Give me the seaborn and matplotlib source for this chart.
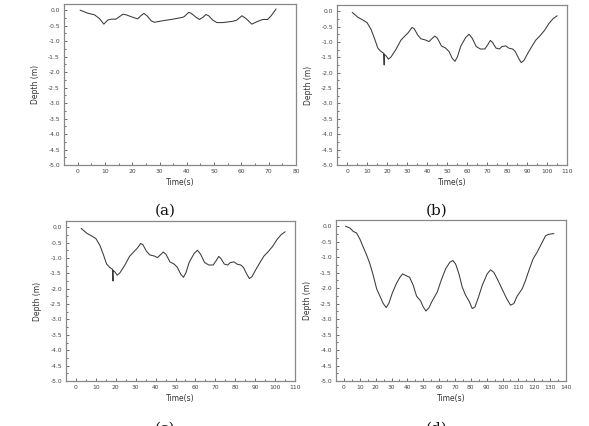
import numpy as np
import pandas as pd
import matplotlib
matplotlib.use("Agg")
import matplotlib.pyplot as plt
import seaborn as sns
from matplotlib.ticker import MultipleLocator

sns.set_theme(style="white")
plt.rcParams['font.family'] = ['DejaVu Sans']

# Panel (a)
t_a = [0.9, 3.8, 6.2, 8.0, 9.6, 11.0, 12.3, 14.0, 16.6, 17.8, 19.6, 22.0, 23.0, 24.3, 25.5,
       27.0, 28.2, 31.2, 34.9, 38.5, 39.0, 40.7, 41.6, 43.4, 44.6, 45.9, 47.0, 48.0, 49.5,
       51.0, 53.2, 56.8, 58.3, 60.2, 61.7, 63.8, 66.0, 67.8, 69.6, 70.9, 72.7]
d_a = [0.0, -0.10, -0.15, -0.27, -0.45, -0.32, -0.29, -0.29, -0.13, -0.15, -0.21, -0.28, -0.19,
       -0.10, -0.19, -0.35, -0.39, -0.34, -0.29, -0.23, -0.21, -0.07, -0.10, -0.23, -0.30, -0.23,
       -0.14, -0.18, -0.32, -0.40, -0.40, -0.36, -0.32, -0.18, -0.27, -0.45, -0.36, -0.30, -0.30,
       -0.18, 0.04]

# Panel (b)
t_b = [2.6, 5.5, 8.0, 10.0, 12.0, 13.7, 15.4, 17.0, 18.4, 18.6, 18.6, 19.5, 20.7, 22.0, 24.5,
       27.0, 29.5, 30.6, 32.5, 33.6, 35.3, 37.0, 39.4, 41.0, 42.2, 43.9, 45.2, 47.2, 49.3, 51.0,
       52.6, 54.0, 55.3, 56.8, 59.3, 61.0, 62.6, 64.6, 66.7, 68.9, 70.4, 71.7, 72.8, 74.5, 76.2,
       77.5, 79.5, 80.8, 82.8, 84.1, 85.8, 87.1, 88.4, 90.4, 92.4, 94.4, 96.5, 98.7, 101.0,
       103.1, 105.1]
d_b = [-0.04, -0.20, -0.29, -0.37, -0.59, -0.88, -1.20, -1.31, -1.37, -1.75, -1.40, -1.45, -1.56,
       -1.49, -1.24, -0.94, -0.77, -0.70, -0.53, -0.57, -0.77, -0.90, -0.94, -0.99, -0.91, -0.81,
       -0.88, -1.13, -1.20, -1.31, -1.53, -1.63, -1.47, -1.15, -0.86, -0.75, -0.88, -1.15, -1.23,
       -1.23, -1.09, -0.95, -1.02, -1.20, -1.23, -1.15, -1.13, -1.20, -1.23, -1.31, -1.53, -1.67,
       -1.61, -1.37, -1.15, -0.94, -0.80, -0.63, -0.40, -0.24, -0.15]

# Panel (c) (same record as (b))
t_c = list(t_b)
d_c = list(d_b)

# Panel (d)
t_d = [1.0, 3.8, 5.9, 8.0, 10.1, 12.2, 14.3, 16.4, 18.5, 20.6, 22.7, 24.8, 26.7, 28.4, 30.5,
       33.2, 35.3, 37.0, 38.9, 41.4, 43.7, 45.8, 48.3, 50.0, 51.7, 53.6, 55.7, 58.8, 61.3, 64.1,
       66.8, 68.7, 70.4, 72.5, 74.6, 76.7, 78.8, 80.9, 82.6, 84.7, 87.2, 90.3, 92.4, 94.5, 97.1,
       99.8, 102.5, 105.0, 107.1, 109.2, 112.4, 114.5, 116.6, 119.3, 121.8, 124.4, 127.1,
       129.2, 132.4]
d_d = [0.0, -0.06, -0.17, -0.22, -0.42, -0.68, -0.93, -1.22, -1.59, -2.02, -2.26, -2.50, -2.63,
       -2.48, -2.16, -1.84, -1.65, -1.54, -1.59, -1.65, -1.91, -2.26, -2.41, -2.61, -2.74, -2.63,
       -2.41, -2.13, -1.75, -1.38, -1.16, -1.11, -1.22, -1.54, -1.97, -2.23, -2.41, -2.66, -2.61,
       -2.31, -1.91, -1.54, -1.41, -1.49, -1.75, -2.04, -2.33, -2.55, -2.50, -2.26, -2.02, -1.75,
       -1.43, -1.05, -0.84, -0.58, -0.31, -0.26, -0.24]

panels = [
    ("(a)", t_a, d_a, 80, (64, 296, 4, 165), (165, 211)),
    ("(b)", t_b, d_b, 110, (337, 567, 5, 165), (437, 211)),
    ("(c)", t_c, d_c, 110, (66, 295, 221, 381), (165, 429)),
    ("(d)", t_d, d_d, 140, (336, 566, 220, 381), (437, 429)),
]

W, H = 589, 426
fig = plt.figure(figsize=(W / 100, H / 100), dpi=100)
fig.patch.set_facecolor("white")

for label, t, d, xmax, (l, r, top, bot), (lx, ly) in panels:
    ax = fig.add_axes([l / W, 1 - bot / H, (r - l) / W, (bot - top) / H])
    df = pd.DataFrame({"Time(s)": t, "Depth (m)": d})
    sns.lineplot(data=df, x="Time(s)", y="Depth (m)", ax=ax, estimator=None, sort=False,
                 color="#3a3a3a", linewidth=0.75)
    ax.set_xlim(-5, xmax)
    ax.set_ylim(-5.0, 0.2)
    ax.xaxis.set_major_locator(MultipleLocator(10))
    ax.xaxis.set_minor_locator(MultipleLocator(5))
    ax.yaxis.set_minor_locator(MultipleLocator(0.25))
    yt = np.arange(-5.0, 0.01, 0.5)
    ax.set_yticks(yt)
    ax.set_yticklabels([f"{v:.1f}" for v in yt])
    ax.tick_params(axis="both", which="both", direction="in", labelsize=4.3,
                   colors="#333333", labelcolor="#444444", top=False, right=False,
                   bottom=True, left=True)
    ax.tick_params(which="major", length=2.5, width=0.5, pad=3)
    ax.tick_params(which="minor", length=1.5, width=0.5)
    ax.set_xlabel("Time(s)", fontsize=5.5, color="#333333", labelpad=3)
    ax.set_ylabel("Depth (m)", fontsize=5.5, color="#333333", labelpad=6)
    for s in ax.spines.values():
        s.set_color("#888888")
        s.set_linewidth(0.9)
    fig.text(lx / W, 1 - ly / H, label, ha="center", va="center",
             fontsize=11, family="DejaVu Serif", color="#111111")

fig.savefig("out.png", dpi=100, facecolor="white")
